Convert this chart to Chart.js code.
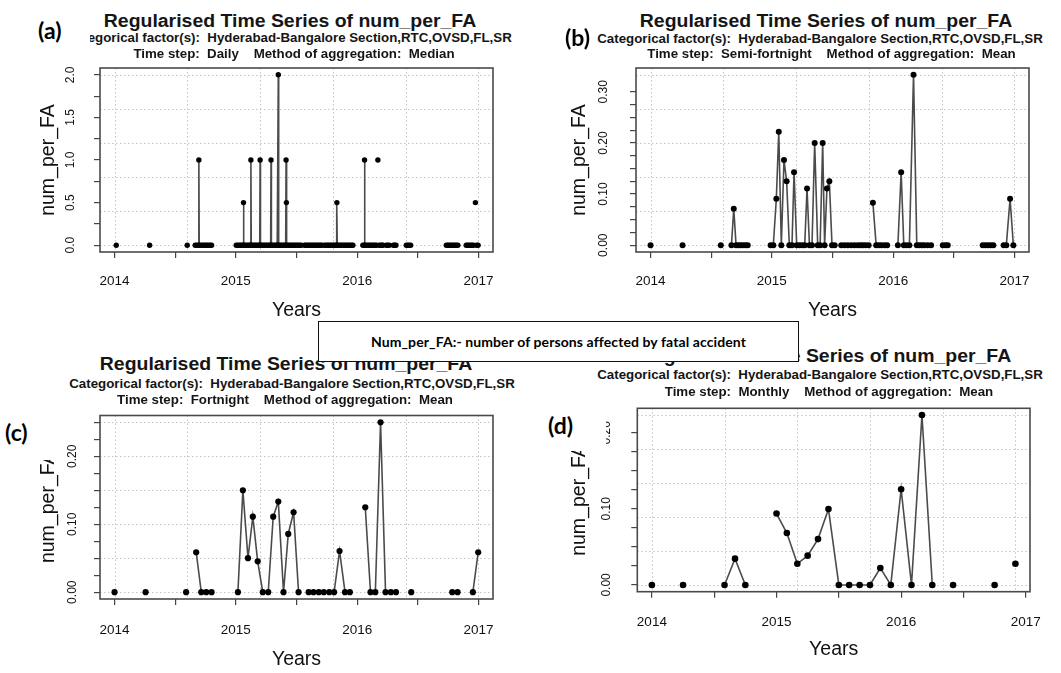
<!DOCTYPE html>
<html>
<head>
<meta charset="utf-8">
<script src="https://cdn.jsdelivr.net/npm/chart.js@4"></script>
<style>
  html, body { margin: 0; padding: 0; background: #fff; }
  #page { position: relative; width: 1061px; height: 673px; overflow: hidden; background: #fff; }
  canvas { position: absolute; }
  .ttl, .sub { position: absolute; width: 600px; text-align: center; white-space: pre;
    font-family: 'Liberation Sans', Arial, sans-serif; font-weight: bold; color: #151515; }
  .ttl { font-size: 18px; line-height: 18px; transform: scaleX(1.08); }
  .sub { font-size: 13.3px; line-height: 14px; }
  .tag { position: absolute; box-sizing: border-box; background: #fff; color: #000;
    font-family: Lato, 'Open Sans', sans-serif; font-weight: bold; font-size: 23px; line-height: 26px; }
  .note { position: absolute; left: 318px; top: 321px; width: 481px; height: 41px; box-sizing: border-box;
    border: 1.6px solid #111; background: #fff; display: flex; align-items: center; justify-content: center;
    font-family: Lato, 'Open Sans', sans-serif; font-weight: bold; font-size: 14px; letter-spacing: 0.1px; color: #000; }
</style>
</head>
<body>
<div id="page">
  <canvas id="cA" width="480" height="270" style="left:28px;top:60px"></canvas>
  <canvas id="cB" width="490" height="270" style="left:560px;top:60px"></canvas>
  <canvas id="cC" width="480" height="268" style="left:28px;top:405px"></canvas>
  <canvas id="cD" width="490" height="273" style="left:560px;top:400px"></canvas>

  <div class="ttl" style="left:-10px;top:11.5px">Regularised Time Series of num_per_FA</div>
  <div class="sub" style="left:-11px;top:31px">Categorical factor(s):  Hyderabad-Bangalore Section,RTC,OVSD,FL,SR</div>
  <div class="sub" style="left:-6px;top:46.5px">Time step:  Daily    Method of aggregation:  Median</div>

  <div class="ttl" style="left:525.5px;top:12px">Regularised Time Series of num_per_FA</div>
  <div class="sub" style="left:520px;top:32px">Categorical factor(s):  Hyderabad-Bangalore Section,RTC,OVSD,FL,SR</div>
  <div class="sub" style="left:531.5px;top:47px">Time step:  Semi-fortnight    Method of aggregation:  Mean</div>

  <div class="ttl" style="left:-13.6px;top:354.8px">Regularised Time Series of num_per_FA</div>
  <div class="sub" style="left:-8px;top:377px">Categorical factor(s):  Hyderabad-Bangalore Section,RTC,OVSD,FL,SR</div>
  <div class="sub" style="left:-15px;top:393px">Time step:  Fortnight    Method of aggregation:  Mean</div>

  <div class="ttl" style="left:525.3px;top:346.5px">Regularised Time Series of num_per_FA</div>
  <div class="sub" style="left:520px;top:368px">Categorical factor(s):  Hyderabad-Bangalore Section,RTC,OVSD,FL,SR</div>
  <div class="sub" style="left:529px;top:385px">Time step:  Monthly    Method of aggregation:  Mean</div>

  <div class="tag" style="left:0;top:8px;width:90px;height:42px;padding:9px 0 0 38px">(a)</div>
  <div class="tag" style="left:561px;top:20px;width:36px;height:32px;padding:4px 0 0 4px;background:transparent">(b)</div>
  <div class="tag" style="left:0;top:412px;width:60px;height:48px;padding:7px 0 0 5px">(c)</div>
  <div class="tag" style="left:540px;top:404px;width:66px;height:47px;padding:8px 0 0 8px">(d)</div>

  <div class="note">Num_per_FA:- number of persons affected by fatal accident</div>
</div>

<script>
// x axis ticks (years, minor ticks at half years)
const yearTicks = [2014, 2014.5, 2015, 2015.5, 2016, 2016.5, 2017];
const yearTickText = ['2014', '', '2015', '', '2016', '', '2017'];

// daily series, median (null = no record)
const dailyYears = [
  2014.014, 2014.150, 2014.289, 2014.450, 2014.599, 2014.630,
  2014.665, 2014.678, 2014.692, 2014.695, 2014.698, 2014.712, 2014.725, 2014.738, 2014.750, 2014.762, 2014.775, 2014.788, 2014.800, 2014.900,
  2015.003, 2015.015, 2015.027, 2015.039, 2015.051, 2015.060, 2015.063, 2015.066, 2015.078, 2015.090, 2015.102, 2015.114, 2015.121, 2015.124, 2015.127,
  2015.139, 2015.151, 2015.163, 2015.175, 2015.187, 2015.197, 2015.200, 2015.203, 2015.215, 2015.227, 2015.239, 2015.251, 2015.263, 2015.275, 2015.287, 2015.290, 2015.293,
  2015.305, 2015.317, 2015.329, 2015.341, 2015.347, 2015.350, 2015.353, 2015.365, 2015.377, 2015.389, 2015.401, 2015.411, 2015.414, 2015.417, 2015.420,
  2015.432, 2015.444, 2015.456, 2015.468, 2015.480, 2015.492, 2015.504, 2015.516, 2015.528, 2015.539, 2015.552,
  2015.566, 2015.578, 2015.590, 2015.602, 2015.614, 2015.626, 2015.638, 2015.650, 2015.662, 2015.674, 2015.686, 2015.698, 2015.710, 2015.722,
  2015.731, 2015.743, 2015.755, 2015.767, 2015.779, 2015.791, 2015.803, 2015.815, 2015.827, 2015.830, 2015.833, 2015.836,
  2015.848, 2015.860, 2015.872, 2015.884, 2015.896, 2015.908, 2015.920, 2015.932, 2015.944, 2015.956, 2015.965, 2016.000,
  2016.047, 2016.058, 2016.061, 2016.064, 2016.076, 2016.088, 2016.100, 2016.112, 2016.124, 2016.136, 2016.148, 2016.160, 2016.165, 2016.171, 2016.176,
  2016.182, 2016.194, 2016.206, 2016.212, 2016.226, 2016.240, 2016.252, 2016.264, 2016.280, 2016.298, 2016.310, 2016.320, 2016.360,
  2016.405, 2016.417, 2016.429, 2016.441, 2016.600,
  2016.735, 2016.747, 2016.759, 2016.771, 2016.783, 2016.795, 2016.807, 2016.819, 2016.830, 2016.860,
  2016.899, 2016.911, 2016.923, 2016.935, 2016.947, 2016.959, 2016.967, 2016.975, 2016.980, 2016.985, 2016.997
];
const dailyValues = [
  0, null, 0, null, 0, null,
  0, 0, 0, 1, 0, 0, 0, 0, 0, 0, 0, 0, 0, null,
  0, 0, 0, 0, 0, 0, 0.5, 0, 0, 0, 0, 0, 0, 1, 0,
  0, 0, 0, 0, 0, 0, 1, 0, 0, 0, 0, 0, 0, 0, 0, 1, 0,
  0, 0, 0, 0, 0, 2, 0, 0, 0, 0, 0, 0, 1, 0.5, 0,
  0, 0, 0, 0, 0, 0, 0, 0, 0, 0, null,
  0, 0, 0, 0, 0, 0, 0, 0, 0, 0, 0, 0, 0, null,
  0, 0, 0, 0, 0, 0, 0, 0, 0, 0, 0.5, 0,
  0, 0, 0, 0, 0, 0, 0, 0, 0, 0, 0, null,
  0, 0, 1, 0, 0, 0, 0, 0, 0, 0, 0, 0, null, 1, null,
  0, 0, 0, 0, null, 0, 0, 0, null, 0, 0, 0, null,
  0, 0, 0, 0, null,
  0, 0, 0, 0, 0, 0, 0, 0, 0, null,
  0, 0, 0, 0, 0, 0, null, 0.5, null, 0, 0
];
const dailyYTicks = [0, 0.25, 0.5, 0.75, 1, 1.25, 1.5, 1.75, 2];
const dailyYText = ['0.0', '', '0.5', '', '1.0', '', '1.5', '', '2.0'];
const dailyGridX = [2014, 2014.6, 2015.2, 2015.8, 2016.4, 2017];
const dailyGridY = [0, 0.4, 0.8, 1.2, 1.6, 2.0];

// semi-fortnight series, mean
const semiYears = [
  2014.000, 2014.130, 2014.264, 2014.420, 2014.579, 2014.620,
  2014.667, 2014.686, 2014.705, 2014.724, 2014.743, 2014.762, 2014.782, 2014.801, 2014.900,
  2014.990, 2015.012, 2015.037, 2015.057, 2015.078, 2015.100, 2015.122, 2015.144, 2015.166, 2015.183,
  2015.205, 2015.227, 2015.249, 2015.271, 2015.290, 2015.310, 2015.331, 2015.353, 2015.378, 2015.398,
  2015.419, 2015.435, 2015.454, 2015.474, 2015.496, 2015.518, 2015.545,
  2015.572, 2015.600, 2015.627, 2015.655, 2015.682, 2015.709, 2015.731, 2015.751, 2015.773, 2015.798, 2015.815,
  2015.833, 2015.860, 2015.882, 2015.904, 2015.929, 2015.951, 2015.990,
  2016.039, 2016.066, 2016.088, 2016.110, 2016.134, 2016.168, 2016.195, 2016.217, 2016.238, 2016.258, 2016.285, 2016.313, 2016.360,
  2016.409, 2016.431, 2016.450, 2016.600,
  2016.738, 2016.760, 2016.782, 2016.804, 2016.826, 2016.870,
  2016.911, 2016.933, 2016.964, 2016.991
];
const semiValues = [
  0, null, 0, null, 0, null,
  0, 0.0714, 0, 0, 0, 0, 0, 0, null,
  0, 0, 0.0909, 0.2222, 0, 0.1667, 0.125, 0, 0, 0.1429,
  0, 0, 0, 0, 0.1111, 0, 0, 0.2, 0, 0,
  0.2, 0, 0.1111, 0.125, 0, 0, null,
  0, 0, 0, 0, 0, 0, 0, 0, 0, 0, null,
  0.0833, 0, 0, 0, 0, 0, null,
  0, 0.1429, 0, 0, 0, 0.3333, 0, 0, 0, 0, 0, 0, null,
  0, 0, 0, null,
  0, 0, 0, 0, 0, null,
  0, 0, 0.0909, 0
];
const semiYTicks = [0, 0.025, 0.05, 0.075, 0.1, 0.125, 0.15, 0.175, 0.2, 0.225, 0.25, 0.275, 0.3];
const semiYText = ['0.00', '', '', '', '0.10', '', '', '', '0.20', '', '', '', '0.30'];
const semiGridX = [2014, 2014.6, 2015.2, 2015.8, 2016.4, 2017];
const semiGridY = [0, 0.0667, 0.1333, 0.2, 0.2667, 0.3333];

// fortnight series, mean
const fortYears = [
  2014.000, 2014.130, 2014.256, 2014.420, 2014.590, 2014.630,
  2014.673, 2014.715, 2014.756, 2014.800, 2014.900,
  2015.017, 2015.058, 2015.100, 2015.140, 2015.180, 2015.222, 2015.267, 2015.308, 2015.350, 2015.393, 2015.432, 2015.476, 2015.517, 2015.560,
  2015.600, 2015.640, 2015.684, 2015.725, 2015.770, 2015.810, 2015.855, 2015.900, 2015.940, 2016.000,
  2016.067, 2016.110, 2016.150, 2016.193, 2016.234, 2016.278, 2016.320, 2016.380,
  2016.446, 2016.600, 2016.784, 2016.828, 2016.890, 2016.954, 2016.998
];
const fortValues = [
  0, null, 0, null, 0, null,
  0.0588, 0, 0, 0, null,
  0, 0.15, 0.05, 0.1111, 0.0455, 0, 0, 0.1111, 0.1333, 0, 0.0857, 0.1176, 0, null,
  0, 0, 0, 0, 0, 0, 0.0606, 0, 0, null,
  0.125, 0, 0, 0.25, 0, 0, 0, null,
  0, null, 0, 0, null, 0, 0.0588
];
const fortYTicks = [0, 0.025, 0.05, 0.075, 0.1, 0.125, 0.15, 0.175, 0.2, 0.225, 0.25];
const fortYText = ['0.00', '', '', '', '0.10', '', '', '', '0.20', '', ''];
const fortGridX = [2014, 2014.6, 2015.2, 2015.8, 2016.4, 2017];
const fortGridY = [0, 0.05, 0.1, 0.15, 0.2, 0.25];

// monthly series, mean
const monthYears = [
  2014.000, 2014.125, 2014.250, 2014.417, 2014.583, 2014.667, 2014.750, 2014.875,
  2015.000, 2015.083, 2015.167, 2015.250, 2015.333, 2015.417, 2015.500, 2015.583, 2015.667, 2015.750, 2015.833, 2015.917,
  2016.000, 2016.083, 2016.167, 2016.250, 2016.333, 2016.417, 2016.583, 2016.750, 2016.833, 2016.917
];
const monthValues = [
  0, null, 0, null, 0, 0.0345, 0, null,
  0.0938, 0.0682, 0.0278, 0.0385, 0.0602, 0.0997, 0, 0, 0, 0, 0.0222, 0,
  0.1258, 0, 0.2232, 0, null, 0, null, 0, null, 0.0278
];
const monthYTicks = [0, 0.025, 0.05, 0.075, 0.1, 0.125, 0.15, 0.175, 0.2];
const monthYText = ['0.00', '', '', '', '0.10', '', '', '', '0.20'];
const monthGridX = [2014, 2014.583, 2015.167, 2015.75, 2016.333, 2016.917];
const monthGridY = [0, 0.0446, 0.0893, 0.1339, 0.1786, 0.2232];

const FONT = "'Liberation Sans', Arial, Helvetica, sans-serif";

// dotted grid underneath the data, a box round the plot region,
// and the y tick labels turned to read upwards
function plotFrame(gridX, gridY, yTicks, yText, labelGap) {
  return {
    id: 'plotFrame',
    beforeDatasetsDraw(chart) {
      const { ctx, chartArea: a, scales } = chart;
      ctx.save();
      ctx.beginPath();
      ctx.rect(a.left, a.top, a.width, a.height);
      ctx.clip();
      ctx.strokeStyle = '#c4c4c4';
      ctx.lineWidth = 1;
      ctx.setLineDash([1.5, 2.5]);
      gridX.forEach(v => {
        const px = Math.round(scales.x.getPixelForValue(v)) + 0.5;
        ctx.beginPath(); ctx.moveTo(px, a.top); ctx.lineTo(px, a.bottom); ctx.stroke();
      });
      gridY.forEach(v => {
        const py = Math.round(scales.y.getPixelForValue(v)) + 0.5;
        ctx.beginPath(); ctx.moveTo(a.left, py); ctx.lineTo(a.right, py); ctx.stroke();
      });
      ctx.restore();
    },
    afterDatasetsDraw(chart) {
      const { ctx, chartArea: a } = chart;
      ctx.save();
      ctx.strokeStyle = '#4a4a4a';
      ctx.lineWidth = 1.6;
      ctx.strokeRect(a.left, a.top, a.width, a.height);
      ctx.restore();
    },
    afterDraw(chart) {
      const { ctx, chartArea: a, scales } = chart;
      ctx.save();
      ctx.fillStyle = '#111';
      ctx.font = '12px ' + FONT;
      ctx.textAlign = 'center';
      ctx.textBaseline = 'middle';
      yTicks.forEach((v, i) => {
        if (!yText[i]) return;
        ctx.save();
        ctx.translate(a.left - labelGap, scales.y.getPixelForValue(v));
        ctx.rotate(-Math.PI / 2);
        ctx.fillText(yText[i], 0, 0);
        ctx.restore();
      });
      ctx.restore();
    }
  };
}

function buildPanel(id, xs, ys, yTicks, yText, gridX, gridY, L) {
  const points = xs.map((x, i) => ({ x: x, y: ys[i] }));
  const tickGrid = { drawOnChartArea: false, drawTicks: true, tickLength: 6, color: '#444', tickColor: '#444', lineWidth: 1.2 };
  return new Chart(document.getElementById(id), {
    type: 'line',
    data: {
      datasets: [{
        data: points,
        borderColor: '#4b4b4b',
        borderWidth: 1.6,
        pointRadius: L.dot,
        pointHoverRadius: 0,
        pointBackgroundColor: '#000',
        pointBorderColor: '#000',
        pointBorderWidth: 0,
        spanGaps: false,
        tension: 0
      }]
    },
    options: {
      responsive: false,
      animation: false,
      events: [],
      layout: { padding: L.pad },
      plugins: { legend: { display: false }, tooltip: { enabled: false } },
      scales: {
        x: {
          type: 'linear',
          min: L.xMin,
          max: L.xMax,
          afterBuildTicks: s => { s.ticks = yearTicks.map(v => ({ value: v })); },
          afterFit: s => { s.height = L.xH; s.paddingLeft = 0; s.paddingRight = 0; },
          grid: tickGrid,
          border: { display: false },
          ticks: {
            autoSkip: false, maxRotation: 0, padding: L.xTickPad, color: '#111',
            font: { family: FONT, size: 13.5 },
            callback: (v, i) => yearTickText[i]
          },
          title: {
            display: true, text: 'Years', color: '#111',
            font: { family: FONT, size: 19.5 },
            padding: { top: 0, bottom: L.xTitlePad }
          }
        },
        y: {
          type: 'linear',
          min: L.yMin,
          max: L.yMax,
          afterBuildTicks: s => { s.ticks = yTicks.map(v => ({ value: v })); },
          afterFit: s => { s.width = L.yW; s.paddingTop = 0; s.paddingBottom = 0; },
          grid: tickGrid,
          border: { display: false },
          ticks: { display: false },
          title: {
            display: true, text: 'num_per_FA', color: '#111',
            font: { family: FONT, size: 19.5 },
            padding: { top: L.yTitlePad, bottom: 0 }
          }
        }
      }
    },
    plugins: [plotFrame(gridX, gridY, yTicks, yText, L.yLabelGap)]
  });
}

buildPanel('cA', dailyYears, dailyValues, dailyYTicks, dailyYText, dailyGridX, dailyGridY, {
  xMin: 2013.88, xMax: 2017.12, yMin: -0.08, yMax: 2.08, dot: 2.7,
  pad: { left: 0, top: 8, right: 15, bottom: 0 }, yW: 72, xH: 78,
  yTitlePad: 8.6, yLabelGap: 29, xTickPad: 14.9, xTitlePad: 7.3
});
buildPanel('cB', semiYears, semiValues, semiYTicks, semiYText, semiGridX, semiGridY, {
  xMin: 2013.88, xMax: 2017.12, yMin: -0.0133, yMax: 0.3467, dot: 3,
  pad: { left: 0, top: 8, right: 21, bottom: 0 }, yW: 76, xH: 78,
  yTitlePad: 8.3, yLabelGap: 32, xTickPad: 14.9, xTitlePad: 7.3
});
buildPanel('cC', fortYears, fortValues, fortYTicks, fortYText, fortGridX, fortGridY, {
  xMin: 2013.88, xMax: 2017.12, yMin: -0.01, yMax: 0.26, dot: 3.1,
  pad: { left: 0, top: 10.5, right: 15, bottom: 0 }, yW: 72, xH: 74,
  yTitlePad: 8.6, yLabelGap: 27.5, xTickPad: 16.9, xTitlePad: 1.3
});
buildPanel('cD', monthYears, monthValues, monthYTicks, monthYText, monthGridX, monthGridY, {
  xMin: 2013.883, xMax: 2017.034, yMin: -0.0089, yMax: 0.2321, dot: 3.3,
  pad: { left: 0, top: 8.3, right: 20, bottom: 0 }, yW: 77.3, xH: 81.3,
  yTitlePad: 8.3, yLabelGap: 30.6, xTickPad: 16.2, xTitlePad: 11.3
});
</script>
</body>
</html>
